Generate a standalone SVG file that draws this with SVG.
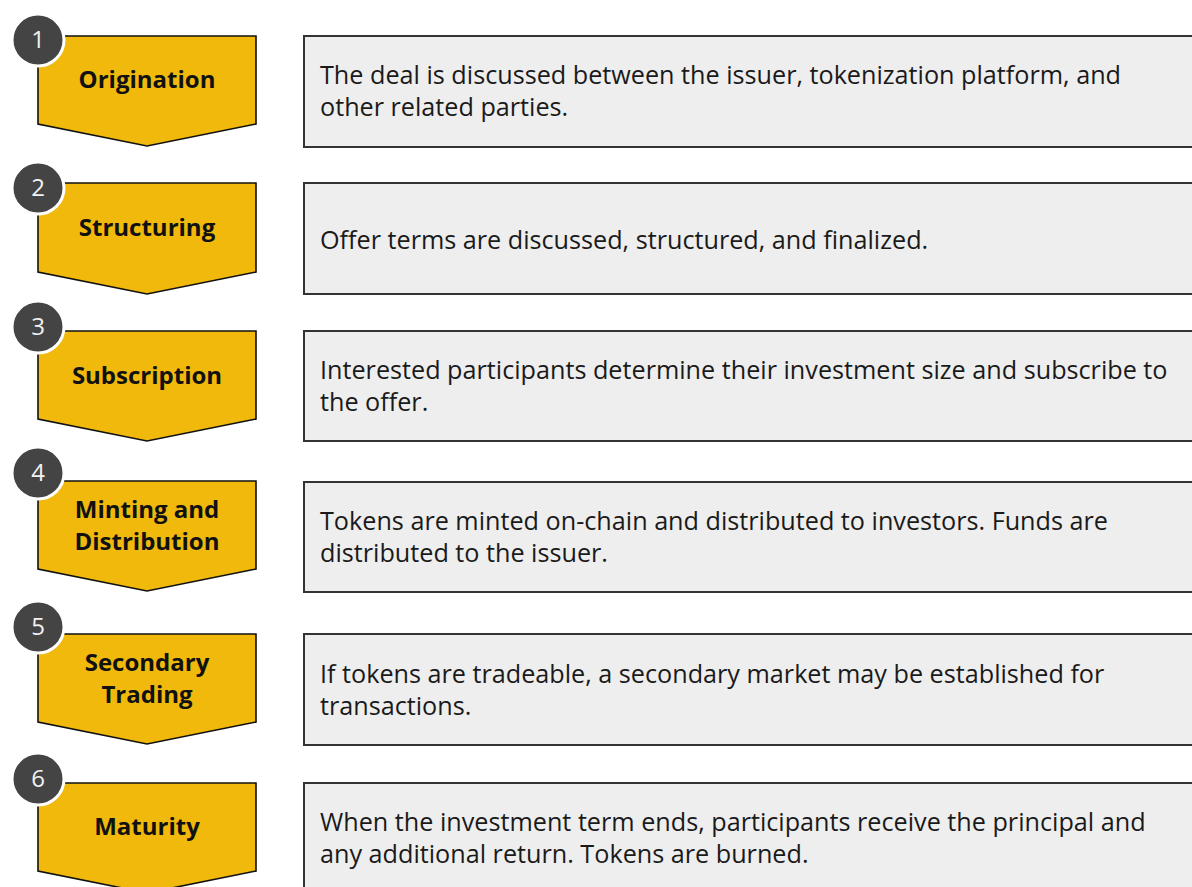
<svg xmlns="http://www.w3.org/2000/svg" width="1192" height="887" viewBox="0 0 1192 887">
<style>
.step{fill:#F0B90B;stroke:#111;stroke-width:1.6;stroke-linejoin:miter}
.badge{fill:#444;stroke:#fff;stroke-width:3}
.num{font-family:"Open Sans","Noto Sans",sans-serif;font-size:24px;fill:#f2f2f2;text-anchor:middle}
.lbl{font-family:"Open Sans","Noto Sans",sans-serif;font-weight:bold;font-size:24px;fill:#111;text-anchor:middle}
.box{fill:#EEEEEE;stroke:#333;stroke-width:2}
.desc{font-family:"Open Sans","Noto Sans",sans-serif;font-size:25.2px;fill:#1a1a1a}
</style>
<rect width="1192" height="887" fill="#fff"/>
<g id="node1">
<path class="step" d="M38 36 H256 V124 L147 146 L38 124 Z"/>
<circle class="badge" cx="38" cy="40" r="26"/>
<text class="num" x="38" y="48">1</text>
<text class="lbl" x="147" y="88">Origination</text>
<rect class="box" x="304" y="36" width="900" height="111"/>
<text class="desc" x="320" y="84">The deal is discussed between the issuer, tokenization platform, and</text>
<text class="desc" x="320" y="116">other related parties.</text>
</g>
<g id="node2">
<path class="step" d="M38 183 H256 V272 L147 294 L38 272 Z"/>
<circle class="badge" cx="38" cy="188" r="26"/>
<text class="num" x="38" y="196">2</text>
<text class="lbl" x="147" y="236">Structuring</text>
<rect class="box" x="304" y="183" width="900" height="111"/>
<text class="desc" x="320" y="249">Offer terms are discussed, structured, and finalized.</text>
</g>
<g id="node3">
<path class="step" d="M38 331 H256 V419 L147 441 L38 419 Z"/>
<circle class="badge" cx="38" cy="327" r="26"/>
<text class="num" x="38" y="335">3</text>
<text class="lbl" x="147" y="384">Subscription</text>
<rect class="box" x="304" y="331" width="900" height="110"/>
<text class="desc" x="320" y="379">Interested participants determine their investment size and subscribe to</text>
<text class="desc" x="320" y="411">the offer.</text>
</g>
<g id="node4">
<path class="step" d="M38 481 H256 V569 L147 591 L38 569 Z"/>
<circle class="badge" cx="38" cy="473" r="26"/>
<text class="num" x="38" y="481">4</text>
<text class="lbl" x="147" y="518">Minting and</text>
<text class="lbl" x="147" y="550">Distribution</text>
<rect class="box" x="304" y="482" width="900" height="110"/>
<text class="desc" x="320" y="530">Tokens are minted on-chain and distributed to investors. Funds are</text>
<text class="desc" x="320" y="562">distributed to the issuer.</text>
</g>
<g id="node5">
<path class="step" d="M38 634 H256 V722 L147 744 L38 722 Z"/>
<circle class="badge" cx="38" cy="627" r="26"/>
<text class="num" x="38" y="635">5</text>
<text class="lbl" x="147" y="671">Secondary</text>
<text class="lbl" x="147" y="703">Trading</text>
<rect class="box" x="304" y="634" width="900" height="111"/>
<text class="desc" x="320" y="683">If tokens are tradeable, a secondary market may be established for</text>
<text class="desc" x="320" y="715">transactions.</text>
</g>
<g id="node6">
<path class="step" d="M38 783 H256 V871 L147 893 L38 871 Z"/>
<circle class="badge" cx="38" cy="779" r="26"/>
<text class="num" x="38" y="787">6</text>
<text class="lbl" x="147" y="835">Maturity</text>
<rect class="box" x="304" y="783" width="900" height="120"/>
<text class="desc" x="320" y="831">When the investment term ends, participants receive the principal and</text>
<text class="desc" x="320" y="863">any additional return. Tokens are burned.</text>
</g>
<g id="connectors"></g>
</svg>
